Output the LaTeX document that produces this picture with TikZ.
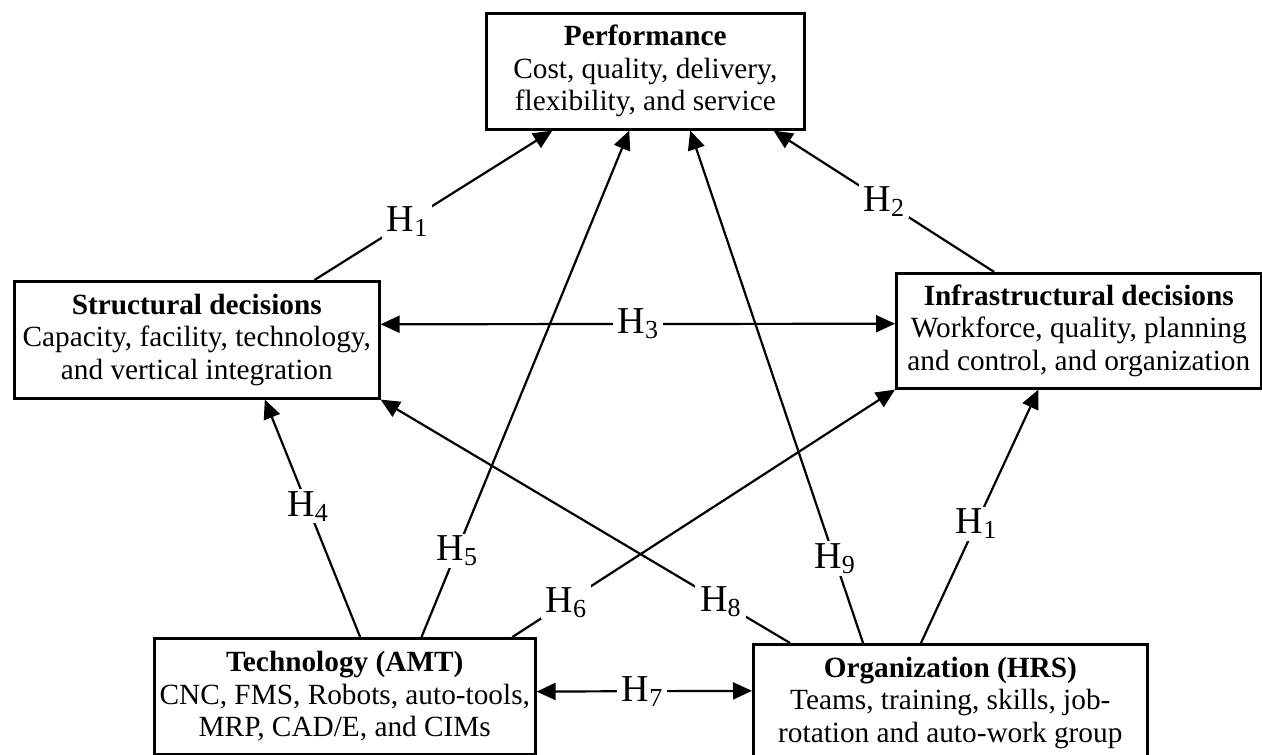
\documentclass[tikz,border=0pt]{standalone}
\usepackage{fontspec}
\setmainfont{Liberation Serif}
\usetikzlibrary{arrows.meta,calc}
\tikzset{
 box/.style={draw, line width=2.6pt, rectangle, inner sep=0pt, align=center,
   font=\fontsize{29.3}{32.5}\selectfont, anchor=north west},
 conn/.style={line width=2.2pt, -{Triangle[length=19pt,width=17pt]}},
 dconn/.style={line width=2.2pt, {Triangle[length=19pt,width=17pt]}-{Triangle[length=19pt,width=17pt]}},
 hlab/.style={fill=white, inner xsep=5pt, inner ysep=2pt, font=\fontsize{38}{38}\selectfont},
}
\newcommand{\hyp}[1]{H\raisebox{-5pt}{\fontsize{26}{26}\selectfont #1}}
\begin{document}
\begin{tikzpicture}[x=1pt,y=-1pt]
\useasboundingbox (0,0) rectangle (1262,755);
% boxes
\node[box, minimum width=318pt, minimum height=116pt] (perf) at (485,12)
  {\textbf{Performance}\\Cost, quality, delivery,\\flexibility, and service};
\node[box, minimum width=365pt, minimum height=117pt] (struct) at (13,280)
  {\textbf{Structural decisions}\\Capacity, facility, technology,\\and vertical integration};
\node[box, minimum width=365pt, minimum height=115pt] (infra) at (895,272)
  {\textbf{Infrastructural decisions}\\Workforce, quality, planning\\and control, and organization};
\node[box, minimum width=381pt, minimum height=116pt] (tech) at (153,637)
  {\textbf{Technology (AMT)}\\CNC, FMS, Robots, auto-tools,\\MRP, CAD/E, and CIMs};
\node[box, minimum width=394pt, minimum height=117pt] (org) at (752,643)
  {\textbf{Organization (HRS)}\\Teams, training, skills, job-\\rotation and auto-work group};
% connectors
\draw[conn] ($(struct.north west)!0.82!(struct.north east)$) -- node[hlab, pos=0.39]{\hyp{1}} ($(perf.south west)!0.21!(perf.south east)$);
\draw[conn] ($(infra.north west)!0.27!(infra.north east)$) -- node[hlab, pos=0.5]{\hyp{2}} ($(perf.south west)!0.90!(perf.south east)$);
\draw[dconn] ($(struct.north east)!0.37!(struct.south east)$) -- node[hlab, pos=0.5]{\hyp{3}} ($(infra.north west)!0.44!(infra.south west)$);
\draw[conn] ($(tech.north west)!0.54!(tech.north east)$) -- node[hlab, pos=0.55]{\hyp{4}} ($(struct.south west)!0.685!(struct.south east)$);
\draw[conn] ($(tech.north west)!0.70!(tech.north east)$) -- node[hlab, pos=0.17]{\hyp{5}} ($(perf.south west)!0.45!(perf.south east)$);
\draw[conn] ($(tech.north west)!0.937!(tech.north east)$) -- node[hlab, pos=0.14]{\hyp{6}} (infra.south west);
\draw[dconn] ($(tech.north east)!0.46!(tech.south east)$) -- node[hlab, pos=0.49]{\hyp{7}} ($(org.north west)!0.40!(org.south west)$);
\draw[conn] ($(org.north west)!0.096!(org.north east)$) -- node[hlab, pos=0.17]{\hyp{8}} (struct.south east);
\draw[conn] ($(org.north west)!0.28!(org.north east)$) -- node[hlab, pos=0.165]{\hyp{9}} ($(perf.south west)!0.64!(perf.south east)$);
\draw[conn] ($(org.north west)!0.426!(org.north east)$) -- node[hlab, pos=0.47]{\hyp{1}} ($(infra.south west)!0.39!(infra.south east)$);
\end{tikzpicture}
\end{document}
